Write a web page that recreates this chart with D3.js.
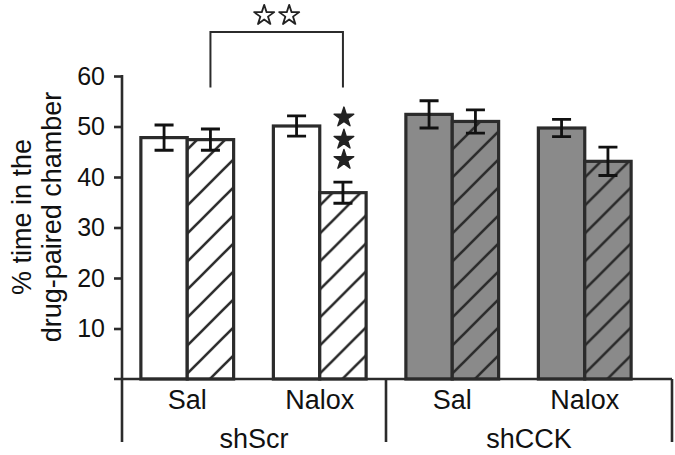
<!DOCTYPE html>
<html>
<head>
<meta charset="utf-8">
<script src="https://cdn.jsdelivr.net/npm/d3@7"></script>
<style>
body { margin: 0; background: #fff; }
text { font-family: "Liberation Sans", Arial, sans-serif; fill: #111; }
</style>
</head>
<body>
<div id="chart"></div>
<script>
var w = 675,
    h = 455;

var groups = ["shScr", "shCCK"];
var treatments = ["Sal", "Nalox"];
var series = ["plain", "hatched"];

// mean % time, one row per group x treatment: [plain, hatched]
var means = [
    [47.8, 47.4],
    [50.1, 36.9],
    [52.4, 51.0],
    [49.7, 43.1]
];
var sems = [
    [2.5, 2.1],
    [2.0, 2.1],
    [2.7, 2.3],
    [1.7, 2.8]
];
var yTicks = [10, 20, 30, 40, 50, 60];

var color = {
    line: '#2b2b2b',
    gray: '#8a8a8a'
};

var cells = [];
groups.forEach(function(g, gi) {
    treatments.forEach(function(t, ti) {
        cells.push({ group: g, treat: t, key: g + '|' + t, gi: gi, row: gi * 2 + ti });
    });
});

var svg = d3.select('#chart')
    .append('svg')
    .attr('width', w)
    .attr('height', h);

var defs = svg.append('defs');
function hatch(id, bg) {
    var p = defs.append('pattern')
        .attr('id', id)
        .attr('patternUnits', 'userSpaceOnUse')
        .attr('width', 28)
        .attr('height', 28);
    p.append('rect').attr('width', 28).attr('height', 28).attr('fill', bg);
    p.append('path')
        .attr('d', 'M0,28L28,0M-7,7L7,-7M21,35L35,21')
        .attr('stroke', color.line)
        .attr('stroke-width', 2.6);
}
hatch('hatchWhite', '#fff');
hatch('hatchGray', color.gray);

var y = d3.scaleLinear().domain([0, 60]).range([379, 76]);

var x = d3.scaleBand()
    .domain(cells.map(function(d) { return d.key }))
    .range([121, 651])
    .paddingInner(0.3)
    .paddingOuter(0.15);

var xs = d3.scaleBand().domain(series).range([0, x.bandwidth()]);

var left = 122, right = 672, baseY = y(0), bottom = 442;

// bars
var cell = svg.selectAll('g.cell')
    .data(cells).enter()
    .append('g')
    .attr('class', 'cell')
    .attr('transform', function(d) { return 'translate(' + x(d.key) + ',0)' });

var bars = cell.selectAll('g.bar')
    .data(function(d) {
        return series.map(function(s, si) {
            return { s: s, gi: d.gi, v: means[d.row][si], e: sems[d.row][si] };
        });
    }).enter()
    .append('g');

bars.append('rect')
    .attr('x', function(d) { return xs(d.s) })
    .attr('y', function(d) { return y(d.v) })
    .attr('width', xs.bandwidth())
    .attr('height', function(d) { return baseY - y(d.v) })
    .attr('fill', function(d) {
        if (d.s === 'hatched') return d.gi === 0 ? 'url(#hatchWhite)' : 'url(#hatchGray)';
        return d.gi === 0 ? '#fff' : color.gray;
    })
    .attr('stroke', color.line)
    .attr('stroke-width', 3.2);

// error bars
var cap = 9.5;
bars.append('path')
    .attr('d', function(d) {
        var cx = xs(d.s) + xs.bandwidth() / 2,
            t = y(d.v + d.e), b = y(d.v - d.e);
        return 'M' + (cx - cap) + ',' + t + 'H' + (cx + cap) +
            'M' + cx + ',' + t + 'V' + b +
            'M' + (cx - cap) + ',' + b + 'H' + (cx + cap);
    })
    .attr('fill', 'none')
    .attr('stroke', '#111')
    .attr('stroke-width', 2.8);

// y axis
var yAxis = d3.axisLeft(y).tickValues(yTicks).tickSize(8).tickPadding(9);
var ya = svg.append('g')
    .attr('transform', 'translate(' + left + ',0)')
    .call(yAxis);
ya.select('.domain').remove();
ya.selectAll('line').attr('stroke', color.line).attr('stroke-width', 2.6);
ya.selectAll('text').attr('font-size', 25).attr('fill', '#111');

var axisLines = svg.append('g')
    .attr('stroke', color.line)
    .attr('stroke-width', 2.6)
    .attr('fill', 'none');
axisLines.append('line').attr('x1', left).attr('x2', left).attr('y1', y(60) - 1).attr('y2', bottom);
axisLines.append('line').attr('x1', left - 8).attr('x2', right).attr('y1', baseY).attr('y2', baseY);
axisLines.append('line').attr('x1', 386).attr('x2', 386).attr('y1', baseY).attr('y2', bottom);
axisLines.append('line').attr('x1', right).attr('x2', right).attr('y1', baseY).attr('y2', bottom);

// category labels
svg.selectAll('text.treat')
    .data(cells).enter()
    .append('text')
    .attr('class', 'treat')
    .attr('x', function(d) { return x(d.key) + x.bandwidth() / 2 })
    .attr('y', 409)
    .attr('text-anchor', 'middle')
    .attr('font-size', 27)
    .text(function(d) { return d.treat });

var groupMid = [(left + 386) / 2, (386 + right) / 2];
svg.selectAll('text.group')
    .data(groups).enter()
    .append('text')
    .attr('class', 'group')
    .attr('x', function(d, i) { return groupMid[i] })
    .attr('y', 448)
    .attr('text-anchor', 'middle')
    .attr('font-size', 27)
    .text(function(d) { return d });

// y label
var yl = svg.append('text')
    .attr('transform', 'translate(0,217) rotate(-90)')
    .attr('text-anchor', 'middle')
    .attr('font-size', 27);
yl.append('tspan').attr('x', 0).attr('y', 31).text('% time in the');
yl.append('tspan').attr('x', 0).attr('y', 61).text('drug-paired chamber');

// significance
var bx1 = x(cells[0].key) + xs('hatched') + xs.bandwidth() / 2,
    bx2 = x(cells[1].key) + xs('hatched') + xs.bandwidth() / 2;
svg.append('path')
    .attr('d', 'M' + bx1 + ',' + y(57.7) + 'V' + y(68.7) + 'H' + bx2 + 'V' + y(57.7))
    .attr('fill', 'none')
    .attr('stroke', color.line)
    .attr('stroke-width', 2);

var openStar = d3.symbol().type(d3.symbolStar).size(125);
[-12.5, 12.5].forEach(function(dx) {
    svg.append('path')
        .attr('d', openStar())
        .attr('transform', 'translate(' + ((bx1 + bx2) / 2 + dx) + ',' + (y(72.2) + 1) + ')')
        .attr('fill', '#fff')
        .attr('stroke', '#222')
        .attr('stroke-width', 1.8)
        .attr('stroke-linejoin', 'round');
});
var fullStar = d3.symbol().type(d3.symbolStar).size(120);
[52, 47.6, 43.6].forEach(function(v) {
    svg.append('path')
        .attr('d', fullStar())
        .attr('transform', 'translate(' + (bx2 + 1) + ',' + (y(v) + 1) + ')')
        .attr('fill', '#222')
        .attr('stroke', '#222')
        .attr('stroke-width', 1.4)
        .attr('stroke-linejoin', 'round');
});
</script>
</body>
</html>
